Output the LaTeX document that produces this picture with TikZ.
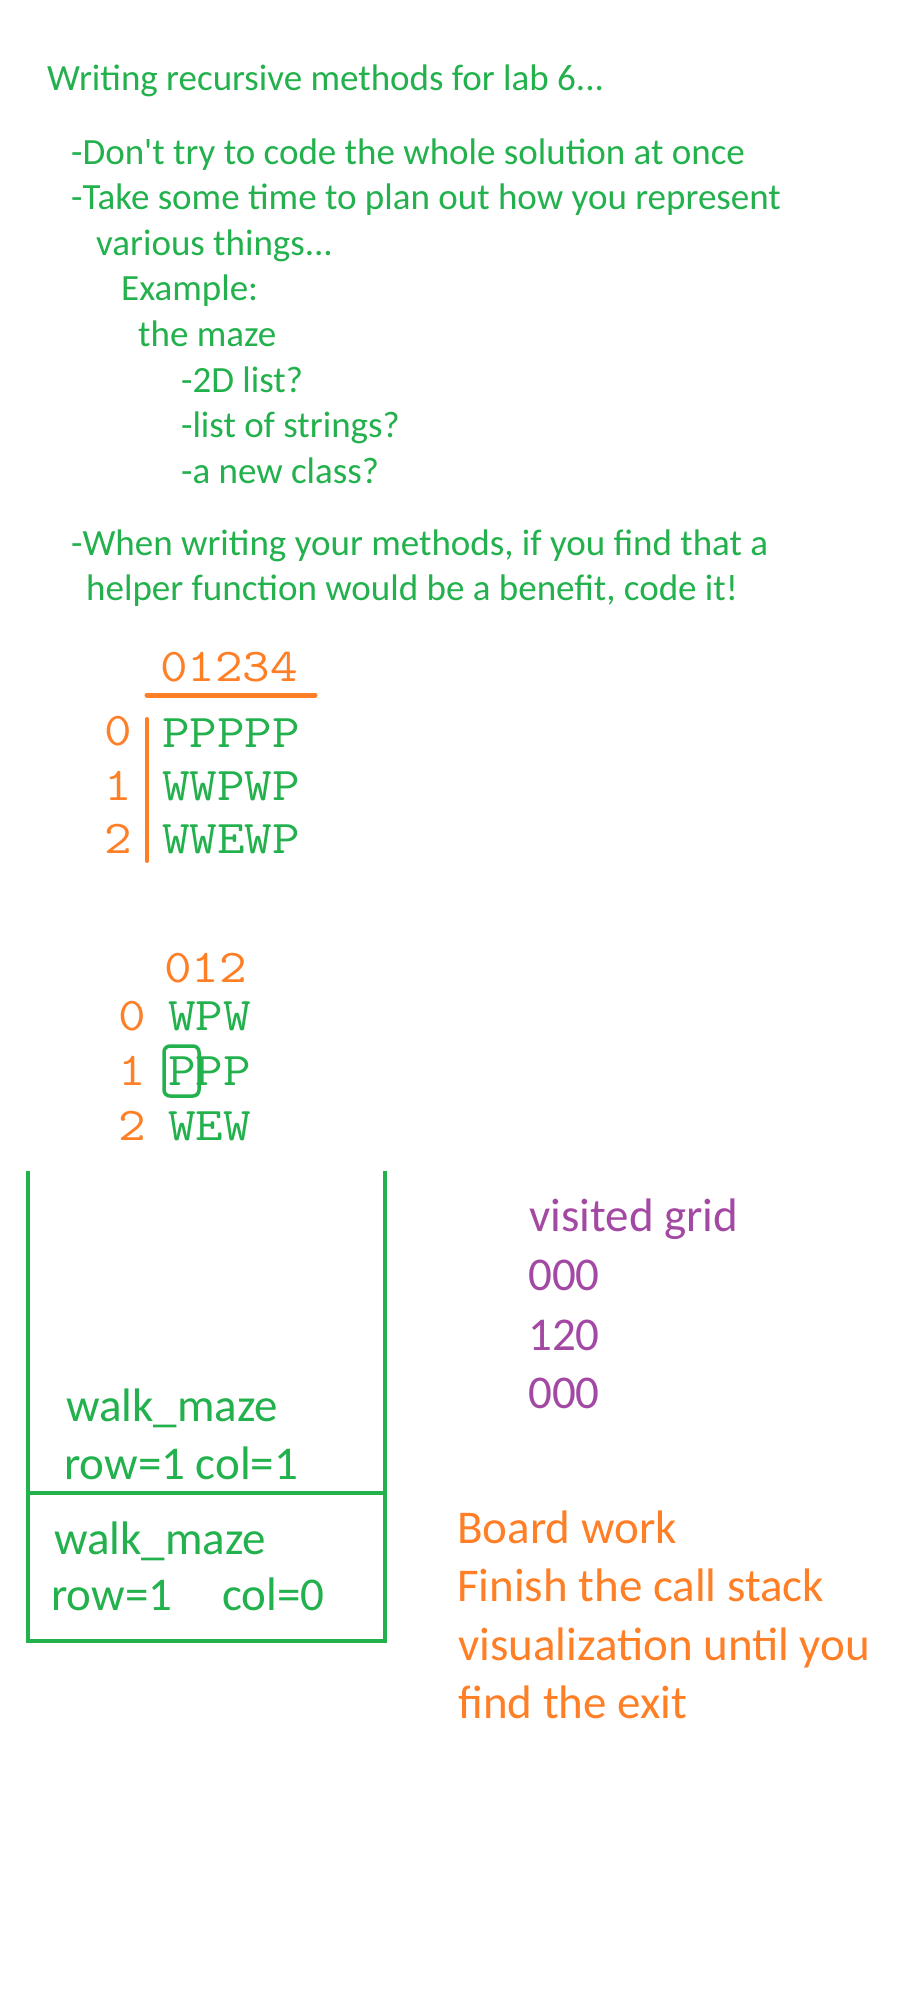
\documentclass[tikz,border=0pt]{standalone}
\usepackage{fontspec}
\setmainfont{Carlito}

\definecolor{notegreen}{RGB}{34,177,76}
\definecolor{gridorange}{RGB}{255,127,39}
\definecolor{visitpurple}{RGB}{163,73,164}
\newcommand{\mazerow}[1]{\scalebox{1.14}[1]{#1}}

\begin{document}
\begin{tikzpicture}[x=1pt, y=-1pt,
        every node/.style={anchor=base west, inner sep=0pt},
        note/.style={text=notegreen, font=\fontsize{37}{45}\selectfont},
        bignote/.style={font=\fontsize{47}{57}\selectfont},
        mazetxt/.style={font=\ttfamily\fontsize{47}{54}\selectfont}]
        \useasboundingbox[fill=white] (0,0) rectangle (923,2002);

        % notes at the top
        \node[note] (title) at (47,91) {Writing recursive methods for lab 6...};
        \node[note] (tip1) at (71,164) {-Don\textquotesingle t try to code the whole solution at once};
        \node[note] (tip2) at (71,209) {-Take some time to plan out how you represent};
        \node[note] (tip2b) at (96,255) {various things...};
        \node[note] (example) at (121,300) {Example:};
        \node[note] (maze) at (138,346) {the maze};
        \node[note] (opt1) at (181,392) {-2D list?};
        \node[note] (opt2) at (181,437) {-list of strings?};
        \node[note] (opt3) at (181,483) {-a new class?};
        \node[note] (tip3) at (71,555) {-When writing your methods, if you find that a};
        \node[note] (tip3b) at (86,600) {helper function would be a benefit, code it!};

        % big maze
        \node[mazetxt, text=gridorange] (bigcols) at (160,681) {\mazerow{01234}};
        \node[mazetxt, text=gridorange] (bigr0) at (104,745) {\mazerow{0}};
        \node[mazetxt, text=gridorange] (bigr1) at (104,800) {\mazerow{1}};
        \node[mazetxt, text=gridorange] (bigr2) at (104,853) {\mazerow{2}};
        \node[mazetxt, text=notegreen] (bigm0) at (162,747) {\mazerow{PPPPP}};
        \node[mazetxt, text=notegreen] (bigm1) at (162,800) {\mazerow{WWPWP}};
        \node[mazetxt, text=notegreen] (bigm2) at (162,853) {\mazerow{WWEWP}};
        \draw[draw=gridorange, line width=5pt, line cap=round] (147,695) -- (315,695);
        \draw[draw=gridorange, line width=4pt, line cap=round] (147,719) -- (147,861);

        % small maze
        \node[mazetxt, text=gridorange] (smcols) at (164,982) {\mazerow{012}};
        \node[mazetxt, text=gridorange] (smr0) at (118,1030) {\mazerow{0}};
        \node[mazetxt, text=gridorange] (smr1) at (118,1085) {\mazerow{1}};
        \node[mazetxt, text=gridorange] (smr2) at (118,1140) {\mazerow{2}};
        \node[mazetxt, text=notegreen] (smm0) at (168,1030) {\mazerow{WPW}};
        \node[mazetxt, text=notegreen] (smm1) at (168,1085) {\mazerow{PPP}};
        \node[mazetxt, text=notegreen] (smm2) at (168,1140) {\mazerow{WEW}};
        \draw[draw=notegreen, line width=3.5pt, rounded corners=6pt] (164,1046) rectangle (199,1096);

        % call stack
        \draw[draw=notegreen, line width=4.5pt] (28,1171) -- (28,1641) -- (385,1641) -- (385,1171);
        \draw[draw=notegreen, line width=4.5pt] (28,1493) -- (385,1493);
        \node[bignote, text=notegreen] (call1) at (66,1421) {walk\_maze};
        \node[bignote, text=notegreen] (args1) at (64,1479) {row=1 col=1};
        \node[bignote, text=notegreen] (call0) at (54,1554) {walk\_maze};
        \node[bignote, text=notegreen] (args0) at (51,1610) {row=1\hspace{50pt}col=0};

        % visited grid
        \node[bignote, text=visitpurple] (visited) at (529,1231) {visited grid};
        \node[bignote, text=visitpurple] (vis0) at (528,1290) {000};
        \node[bignote, text=visitpurple] (vis1) at (528,1350) {120};
        \node[bignote, text=visitpurple] (vis2) at (528,1408) {000};

        % board work
        \node[bignote, text=gridorange] (board) at (457,1543) {Board work};
        \node[bignote, text=gridorange] (task1) at (457,1601) {Finish the call stack};
        \node[bignote, text=gridorange] (task2) at (458,1660) {visualization until you};
        \node[bignote, text=gridorange] (task3) at (458,1718) {find the exit};
    \end{tikzpicture}
\end{document}
